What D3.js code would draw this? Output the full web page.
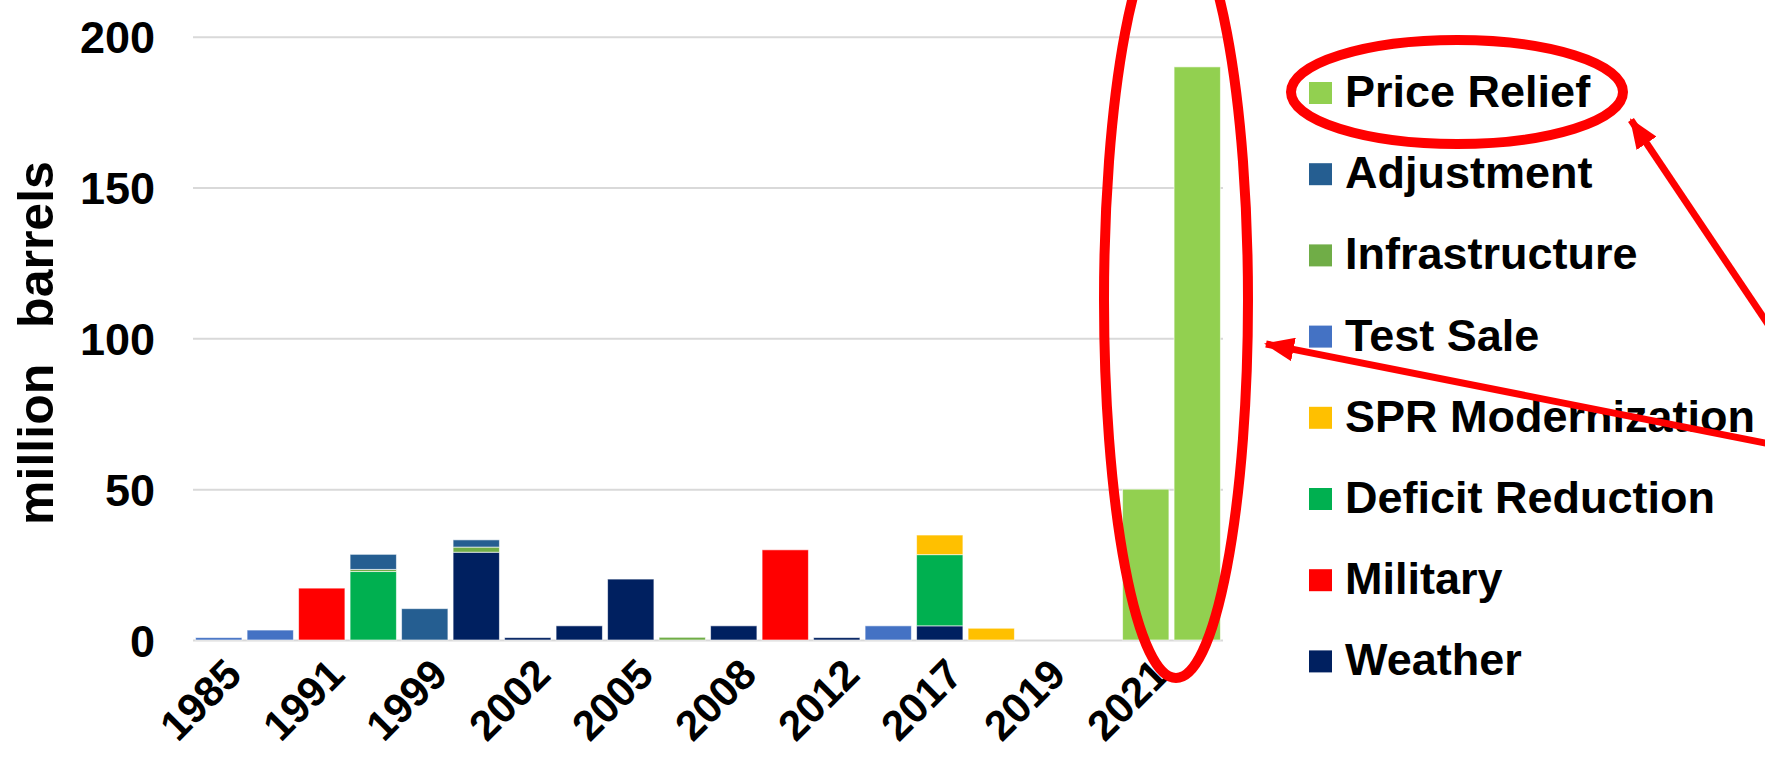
<!DOCTYPE html>
<html>
<head>
<meta charset="utf-8">
<script src="https://cdn.jsdelivr.net/npm/d3@7"></script>
<style>
  html, body { margin: 0; padding: 0; background: #fff; overflow: hidden; }
  svg text { font-family: "Liberation Sans", Arial, sans-serif; font-weight: bold; fill: #000; }
</style>
</head>
<body>
<div id="chart"></div>
<script>
// SPR releases by type, million barrels

const categories = ["1985","1990","1991","1996","1999","2000","2002","2004","2005","2006",
                    "2008","2011","2012","2014","2017","2018","2019","2020","2021","2022"];

// series, bottom of stack first
const weather       = [0, 0, 0, 0, 0, 29.1, 0.8, 4.7, 20.2, 0, 4.7, 0, 0.8, 0, 4.7, 0, 0, 0, 0, 0];
const military      = [0, 0, 17.2, 0, 0, 0, 0, 0, 0, 0, 0, 29.9, 0, 0, 0, 0, 0, 0, 0, 0];
const deficit       = [0, 0, 0, 22.7, 0, 0, 0, 0, 0, 0, 0, 0, 0, 0, 23.6, 0, 0, 0, 0, 0];
const modernization = [0, 0, 0, 0, 0, 0, 0, 0, 0, 0, 0, 0, 0, 0, 6.5, 3.9, 0, 0, 0, 0];
const testSale      = [0.8, 3.3, 0, 0, 0, 0, 0, 0, 0, 0, 0, 0, 0, 4.7, 0, 0, 0, 0, 0, 0];
const infrastructure= [0, 0, 0, 0.7, 0, 1.7, 0, 0, 0, 0.9, 0, 0, 0, 0, 0, 0, 0, 0, 0, 0];
const adjustment    = [0, 0, 0, 5.0, 10.4, 2.4, 0, 0, 0, 0, 0, 0, 0, 0, 0, 0, 0, 0, 0, 0];
const priceRelief   = [0, 0, 0, 0, 0, 0, 0, 0, 0, 0, 0, 0, 0, 0, 0, 0, 0, 0, 50, 190];

const seriesNames = ["Weather", "Military", "Deficit Reduction", "SPR Modernization",
                     "Test Sale", "Infrastructure", "Adjustment", "Price Relief"];
const seriesValues = [weather, military, deficit, modernization, testSale, infrastructure, adjustment, priceRelief];
const seriesColors = ["#002060", "#FF0000", "#00B050", "#FFC000", "#4472C4", "#70AD47", "#255E91", "#92D050"];

const yTicks = [0, 50, 100, 150, 200];

const width = 1765, height = 771;
const margin = { top: 36.7, left: 193, right: 542, bottom: 131 };
const plotW = width - margin.left - margin.right;
const plotH = height - margin.top - margin.bottom;

const svg = d3.select("#chart")
  .append("svg")
    .attr("width", width)
    .attr("height", height);

const g = svg.append("g")
  .attr("transform", `translate(${margin.left},${margin.top})`);

// build rows for the stack
const rows = categories.map((c, i) => {
  const r = { year: c };
  seriesNames.forEach((s, k) => { r[s] = seriesValues[k][i]; });
  return r;
});

const x = d3.scaleBand()
  .domain(categories)
  .range([0, plotW])
  .paddingInner(0.1)
  .paddingOuter(0.05);

const y = d3.scaleLinear()
  .domain([0, 200])
  .range([plotH, 0]);

const color = d3.scaleOrdinal()
  .domain(seriesNames)
  .range(seriesColors);

// Y axis + gridlines
const yAxis = g.append("g")
  .call(d3.axisLeft(y).tickValues(yTicks).tickSizeInner(-plotW).tickSizeOuter(0).tickPadding(38));
yAxis.select(".domain").remove();
yAxis.selectAll("line").attr("stroke", "#d9d9d9").attr("stroke-width", 2);
yAxis.selectAll("text")
  .style("font-size", "45px")
  .attr("dy", "0.36em");

// X axis, every other label
const xAxis = g.append("g")
  .attr("transform", `translate(0,${plotH})`)
  .call(d3.axisBottom(x)
    .tickValues(categories.filter((d, i) => i % 2 === 0))
    .tickSize(0));
xAxis.select(".domain").remove();
xAxis.selectAll("text")
  .style("font-size", "42px")
  .attr("text-anchor", "end")
  .attr("dy", null)
  .attr("y", 0)
  .attr("transform", "translate(25,37) rotate(-45)");

// Stacked bars
const stacked = d3.stack().keys(seriesNames)(rows);

g.selectAll("g.layer")
  .data(stacked)
  .enter()
  .append("g")
    .attr("class", "layer")
    .attr("fill", d => color(d.key))
  .selectAll("rect")
  .data(d => d.filter(p => p[1] - p[0] > 0))
  .enter()
  .append("rect")
    .attr("x", d => x(d.data.year))
    .attr("y", d => y(d[1]))
    .attr("width", x.bandwidth())
    .attr("height", d => y(d[0]) - y(d[1]))
    .attr("stroke", "#ffffff")
    .attr("stroke-opacity", 0.6)
    .attr("stroke-width", 1);

// Y title
svg.append("text")
  .attr("transform", "translate(53,343) rotate(-90)")
  .attr("text-anchor", "middle")
  .style("font-size", "50px")
  .style("word-spacing", "22px")
  .text("million barrels");

// Legend (reverse order, top = Price Relief)
const legendItems = seriesNames.slice().reverse();
const legend = svg.append("g")
  .attr("transform", "translate(1309,107)");

const li = legend.selectAll("g")
  .data(legendItems)
  .enter()
  .append("g")
    .attr("transform", (d, i) => `translate(0,${i * 81.2})`);

li.append("rect")
  .attr("x", 0)
  .attr("y", -25)
  .attr("width", 23)
  .attr("height", 22)
  .attr("fill", d => color(d));

li.append("text")
  .attr("x", 36)
  .attr("y", 0)
  .style("font-size", "45px")
  .text(d => d);

// Red annotations
const red = "#FF0000";
svg.append("defs").append("marker")
  .attr("id", "head")
  .attr("markerUnits", "userSpaceOnUse")
  .attr("viewBox", "0 0 30 24")
  .attr("refX", 28)
  .attr("refY", 12)
  .attr("markerWidth", 30)
  .attr("markerHeight", 24)
  .attr("orient", "auto")
  .append("path")
    .attr("d", "M0,0 L30,12 L0,24 Z")
    .attr("fill", red);

svg.append("ellipse")
  .attr("cx", 1176).attr("cy", 300)
  .attr("rx", 72).attr("ry", 378)
  .attr("fill", "none")
  .attr("stroke", red)
  .attr("stroke-width", 10);

svg.append("ellipse")
  .attr("cx", 1457).attr("cy", 92)
  .attr("rx", 166).attr("ry", 52)
  .attr("fill", "none")
  .attr("stroke", red)
  .attr("stroke-width", 10);

const arrows = [
  { x1: 1800, y1: 372, x2: 1631, y2: 120 },
  { x1: 1800, y1: 450, x2: 1266, y2: 344 }
];
svg.selectAll("line.arrow")
  .data(arrows)
  .enter()
  .append("line")
    .attr("class", "arrow")
    .attr("x1", d => d.x1).attr("y1", d => d.y1)
    .attr("x2", d => d.x2).attr("y2", d => d.y2)
    .attr("stroke", red)
    .attr("stroke-width", 7)
    .attr("marker-end", "url(#head)");
</script>
</body>
</html>
